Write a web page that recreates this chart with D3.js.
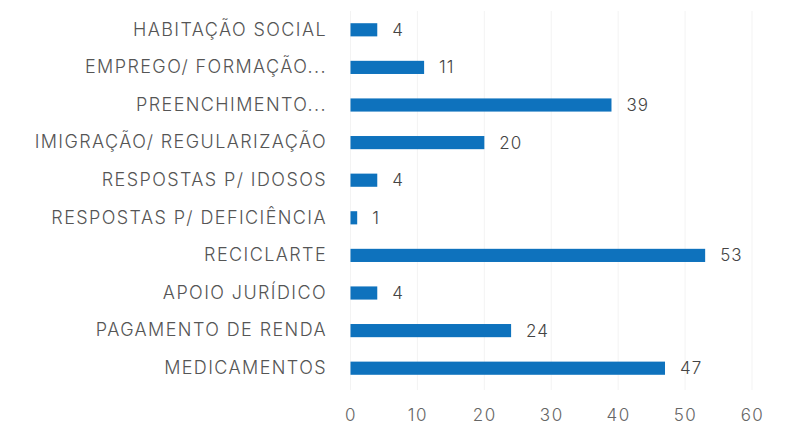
<!DOCTYPE html>
<html>
<head>
<meta charset="utf-8">
<script src="https://cdn.jsdelivr.net/npm/d3@7"></script>
<style>
  body { margin: 0; background: #fff; }
  text { font-family: Inter, sans-serif; font-weight: 300; }
</style>
</head>
<body>
<div id="chart"></div>
<script>
const categories = [
  "HABITAÇÃO SOCIAL",
  "EMPREGO/ FORMAÇÃO...",
  "PREENCHIMENTO...",
  "IMIGRAÇÃO/ REGULARIZAÇÃO",
  "RESPOSTAS P/ IDOSOS",
  "RESPOSTAS P/ DEFICIÊNCIA",
  "RECICLARTE",
  "APOIO JURÍDICO",
  "PAGAMENTO DE RENDA",
  "MEDICAMENTOS"
]
const values = [4, 11, 39, 20, 4, 1, 53, 4, 24, 47]
const xTicks = [0, 10, 20, 30, 40, 50, 60]

const width = 790
const height = 426

const svg = d3.select("#chart")
  .append("svg")
  .attr("width", width)
  .attr("height", height)

// scales
let x = d3.scaleLinear()
  .domain([0, 60])
  .range([350.5, 752])

let y = d3.scaleBand()
  .domain(categories)
  .range([11, 387])
  .paddingInner(0.65)
  .paddingOuter(0.325)

// faint vertical grid
svg.append("g")
  .selectAll("line")
  .data(xTicks)
  .enter()
  .append("line")
  .attr("x1", d => x(d))
  .attr("x2", d => x(d))
  .attr("y1", 11)
  .attr("y2", 390)
  .attr("stroke", "#f3f3f3")
  .attr("stroke-width", 1)

// x axis, labels only
let xAxis = svg.append("g")
  .attr("transform", "translate(0,409)")
  .call(d3.axisBottom(x).tickValues(xTicks).tickSize(0).tickPadding(0))
xAxis.select(".domain").remove()
xAxis.selectAll("text")
  .attr("dy", "0.71em")
  .style("font-size", "17px")
  .style("font-family", "Inter, sans-serif")
  .style("font-weight", 300)
  .style("letter-spacing", "1.5px")
  .attr("fill", "#666")

// y axis, category labels
let yAxis = svg.append("g")
  .attr("transform", "translate(327,0)")
  .call(d3.axisLeft(y).tickSize(0).tickPadding(0))
yAxis.select(".domain").remove()
yAxis.selectAll("text")
  .style("font-size", "18px")
  .style("font-family", "Inter, sans-serif")
  .style("font-weight", 300)
  .style("letter-spacing", "1.4px")
  .attr("fill", "#555")

// bars
svg.append("g")
  .selectAll("rect")
  .data(values)
  .enter()
  .append("rect")
  .attr("x", x(0))
  .attr("y", (d, i) => y(categories[i]))
  .attr("width", d => x(d) - x(0))
  .attr("height", y.bandwidth())
  .attr("fill", "#0e72bd")

// value labels
svg.append("g")
  .selectAll("text")
  .data(values)
  .enter()
  .append("text")
  .attr("x", d => x(d) + 15)
  .attr("y", (d, i) => y(categories[i]) + y.bandwidth() / 2)
  .attr("dy", "0.35em")
  .style("font-size", "17px")
  .style("letter-spacing", "1px")
  .attr("fill", "#444")
  .text(d => d)
</script>
</body>
</html>
